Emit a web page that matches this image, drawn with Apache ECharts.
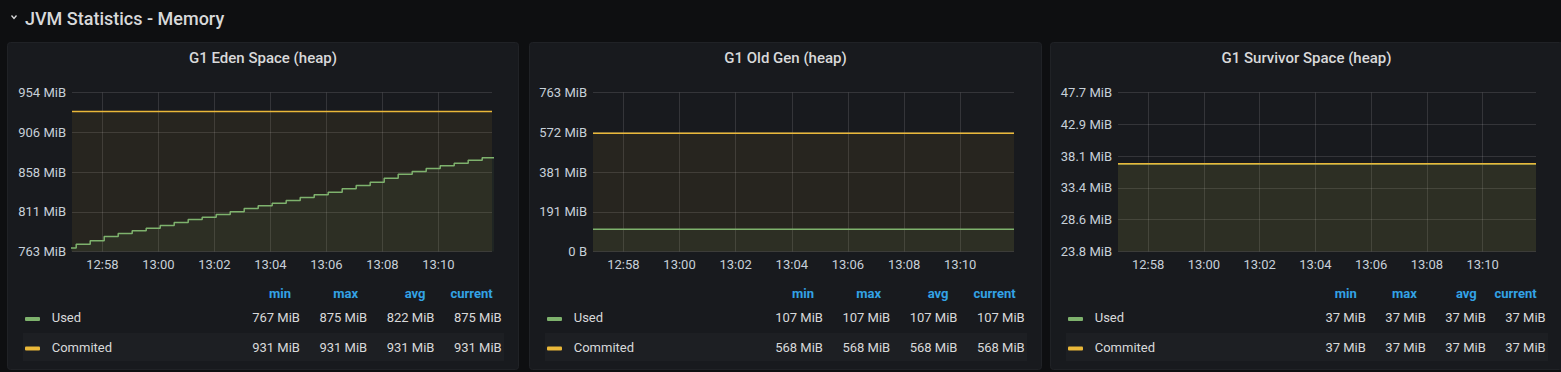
<!DOCTYPE html>
<html>
<head>
<meta charset="utf-8">
<script src="https://cdn.jsdelivr.net/npm/echarts@6/dist/echarts.min.js"></script>
<style>
html,body{margin:0;padding:0;background:#0e0f11;overflow:hidden}
#c{width:1561px;height:372px}
</style>
</head>
<body>
<div id="c"></div>
<script>
// ---------------- DATA ----------------
const sectionTitle = 'JVM Statistics - Memory';
const panelTitles = ['G1 Eden Space (heap)', 'G1 Old Gen (heap)', 'G1 Survivor Space (heap)'];
const seriesNames = ['Used', 'Commited'];
const statHeaders = ['min', 'max', 'avg', 'current'];
const xTickLabels = ['12:58', '13:00', '13:02', '13:04', '13:06', '13:08', '13:10'];
const viewStart = '12:56:55';
const viewEnd = '13:11:55';

// Eden "Used": samples every 30 s starting at 12:56:34 (MiB)
const edenUsedFirstSample = '12:56:34';
const edenUsedSampleSec = 30;
const edenUsed = [767, 771.7, 775.7, 780.9, 784.5, 787.7, 790.9, 794.1, 797.7, 801.3,
  804.1, 807.3, 810.5, 814.5, 817.7, 820.9, 824.1, 827.7, 830.9, 834.1,
  838.1, 842.1, 846.1, 850.9, 855.7, 858.9, 862.5, 865.7, 868.9, 872.5, 875.3, 875.3];
// constant series: value at view start and view end (MiB)
const edenCommitted = [931, 931];
const oldGenUsed = [107, 107];
const oldGenCommitted = [568, 568];
const survivorUsed = [37, 37];
const survivorCommitted = [37, 37];

// legend stats (MiB): min, max, avg, current
const edenUsedStats = [767, 875, 822, 875];
const edenCommittedStats = [931, 931, 931, 931];
const oldGenUsedStats = [107, 107, 107, 107];
const oldGenCommittedStats = [568, 568, 568, 568];
const survivorUsedStats = [37, 37, 37, 37];
const survivorCommittedStats = [37, 37, 37, 37];

// y tick labels (axes run in bytes)
const edenYTicks = ['763 MiB', '811 MiB', '858 MiB', '906 MiB', '954 MiB'];
const oldGenYTicks = ['0 B', '191 MiB', '381 MiB', '572 MiB', '763 MiB'];
const survivorYTicks = ['23.8 MiB', '28.6 MiB', '33.4 MiB', '38.1 MiB', '42.9 MiB', '47.7 MiB'];
const edenYRange = [800e6, 1000e6, 50e6];
const oldGenYRange = [0, 800e6, 200e6];
const survivorYRange = [25e6, 50e6, 5e6];

// ---------------- HELPERS ----------------
const MiB = 1048576;
const FONT = 'Roboto, "Noto Sans", sans-serif';
const GREEN = '#7eb26d', YELLOW = '#eab839';
const toMs = s => { const p = s.split(':').map(Number); return Date.UTC(2021, 0, 1, p[0], p[1], p[2] || 0); };
const pad2 = n => (n < 10 ? '0' : '') + n;
const fmtTime = v => { const d = new Date(v); return pad2(d.getUTCHours()) + ':' + pad2(d.getUTCMinutes()); };
const rgba = (hex, a) => { const n = parseInt(hex.slice(1), 16); return `rgba(${n >> 16},${(n >> 8) & 255},${n & 255},${a})`; };
const t0 = toMs(viewStart), t1 = toMs(viewEnd);
const tickMs = xTickLabels.map(s => toMs(s));

const cv = document.createElement('canvas').getContext('2d');
function textW(t, font) { cv.font = font; return cv.measureText(t).width; }

const panels = [
  { x: 7, w: 512, grid: { left: 72, top: 92.5, width: 420, height: 159 }, yr: edenYRange, yt: edenYTicks,
    series: [
      edenUsed.map((v, i) => [toMs(edenUsedFirstSample) + i * edenUsedSampleSec * 1000, v * MiB]),
      edenCommitted.map((v, i) => [i === 0 ? t0 : t1, v * MiB])],
    stats: [edenUsedStats, edenCommittedStats], step: true },
  { x: 529, w: 513, grid: { left: 593, top: 92.5, width: 421, height: 159 }, yr: oldGenYRange, yt: oldGenYTicks,
    series: [
      oldGenUsed.map((v, i) => [i === 0 ? t0 : t1, v * MiB]),
      oldGenCommitted.map((v, i) => [i === 0 ? t0 : t1, v * MiB])],
    stats: [oldGenUsedStats, oldGenCommittedStats] },
  { x: 1050, w: 513, grid: { left: 1118, top: 92.5, width: 418, height: 159 }, yr: survivorYRange, yt: survivorYTicks,
    series: [
      survivorUsed.map((v, i) => [i === 0 ? t0 : t1, v * MiB]),
      survivorCommitted.map((v, i) => [i === 0 ? t0 : t1, v * MiB])],
    stats: [survivorUsedStats, survivorCommittedStats] }
];

const grids = [], xAxes = [], yAxes = [], series = [], graphics = [];
const labelColor = '#c7d0d9';
const splitColor = 'rgba(255,255,255,0.12)';

// section header
graphics.push({ type: 'polyline', shape: { points: [[11.5, 15.5], [14, 18.5], [16.5, 15.5]] },
  style: { stroke: '#d8d9da', lineWidth: 1.3, fill: null } });
graphics.push({ type: 'text', x: 25, y: 18, style: { text: sectionTitle, fill: '#d8d9da',
  font: '500 18px ' + FONT, align: 'left', verticalAlign: 'middle', textAlign: 'left', textVerticalAlign: 'middle' } });

panels.forEach((p, gi) => {
  // panel background
  graphics.push({ type: 'rect', z: -10, shape: { x: p.x + 0.5, y: 42.5, width: p.w - 1, height: 327, r: 3 },
    style: { fill: '#181a1e', stroke: '#202226', lineWidth: 1 } });
  graphics.push({ type: 'text', x: p.x + p.w / 2, y: 58, style: { text: panelTitles[gi], fill: '#d8d9da',
    font: '500 15px ' + FONT, align: 'center', verticalAlign: 'middle', textAlign: 'center', textVerticalAlign: 'middle' } });

  grids.push(Object.assign({ outerBoundsMode: 'none', containLabel: false }, p.grid));
  xAxes.push({ type: 'value', gridIndex: gi, min: t0, max: t1,
    axisLine: { show: false }, axisTick: { show: false, customValues: tickMs },
    axisLabel: { customValues: tickMs, formatter: v => fmtTime(v), color: labelColor, fontSize: 13, fontFamily: FONT, margin: 6 },
    splitLine: { show: true, lineStyle: { color: splitColor, width: 1 } } });
  const [mn, mx, iv] = p.yr;
  yAxes.push({ type: 'value', gridIndex: gi, min: mn, max: mx, interval: iv,
    axisLine: { show: false }, axisTick: { show: false },
    axisLabel: { formatter: v => p.yt[Math.round((v - mn) / iv)] || '', color: labelColor, fontSize: 13, fontFamily: FONT,
      margin: 6, padding: [0, 0, 3, 0] },
    splitLine: { show: true, lineStyle: { color: splitColor, width: 1 } } });

  [GREEN, YELLOW].forEach((col, si) => {
    series.push({ type: 'line', name: seriesNames[si], xAxisIndex: gi, yAxisIndex: gi,
      data: p.series[si], step: (p.step && si === 0) ? 'end' : false,
      symbol: 'none', showSymbol: false, silent: true, animation: false, clip: true,
      lineStyle: { color: col, width: 1.5 }, itemStyle: { color: col },
      areaStyle: { color: rgba(col, 0.1), origin: 'auto' } });
  });

  // legend table
  const valFont = '13px ' + FONT;
  const cols = statHeaders.map((h, ci) => Math.max(...p.stats.map(r => textW(r[ci] + ' MiB', valFont))));
  const rights = [];
  let r = p.x + p.w - 17.3;
  for (let ci = 3; ci >= 0; ci--) { rights[ci] = r; r -= cols[ci] + 19.5; }
  graphics.push({ type: 'rect', z: -5, shape: { x: p.x + 15.7, y: 333, width: p.w - 30.4, height: 28 },
    style: { fill: 'rgba(255,255,255,0.025)' } });
  statHeaders.forEach((h, ci) => graphics.push({ type: 'text', x: rights[ci] - 9, y: 293,
    style: { text: h, fill: '#33a2e5', font: 'bold 13px ' + FONT, align: 'right', verticalAlign: 'middle', textAlign: 'right', textVerticalAlign: 'middle' } }));
  [GREEN, YELLOW].forEach((col, si) => {
    const y = si === 0 ? 317.7 : 347.3;
    graphics.push({ type: 'rect', shape: { x: p.x + 18, y: y - 0.7, width: 15, height: 4, r: 1 }, style: { fill: col } });
    graphics.push({ type: 'text', x: p.x + 44.7, y: y, style: { text: seriesNames[si], fill: '#d8d9da',
      font: valFont, align: 'left', verticalAlign: 'middle', textAlign: 'left', textVerticalAlign: 'middle' } });
    p.stats[si].forEach((v, ci) => graphics.push({ type: 'text', x: rights[ci], y: y, style: { text: v + ' MiB', fill: '#d8d9da',
      font: valFont, align: 'right', verticalAlign: 'middle', textAlign: 'right', textVerticalAlign: 'middle' } }));
  });
});

const chart = echarts.init(document.getElementById('c'), null, { renderer: 'svg', width: 1561, height: 372 });
chart.setOption({
  backgroundColor: '#0e0f11',
  animation: false,
  grid: grids, xAxis: xAxes, yAxis: yAxes, series: series,
  graphic: graphics
});
</script>
</body>
</html>
